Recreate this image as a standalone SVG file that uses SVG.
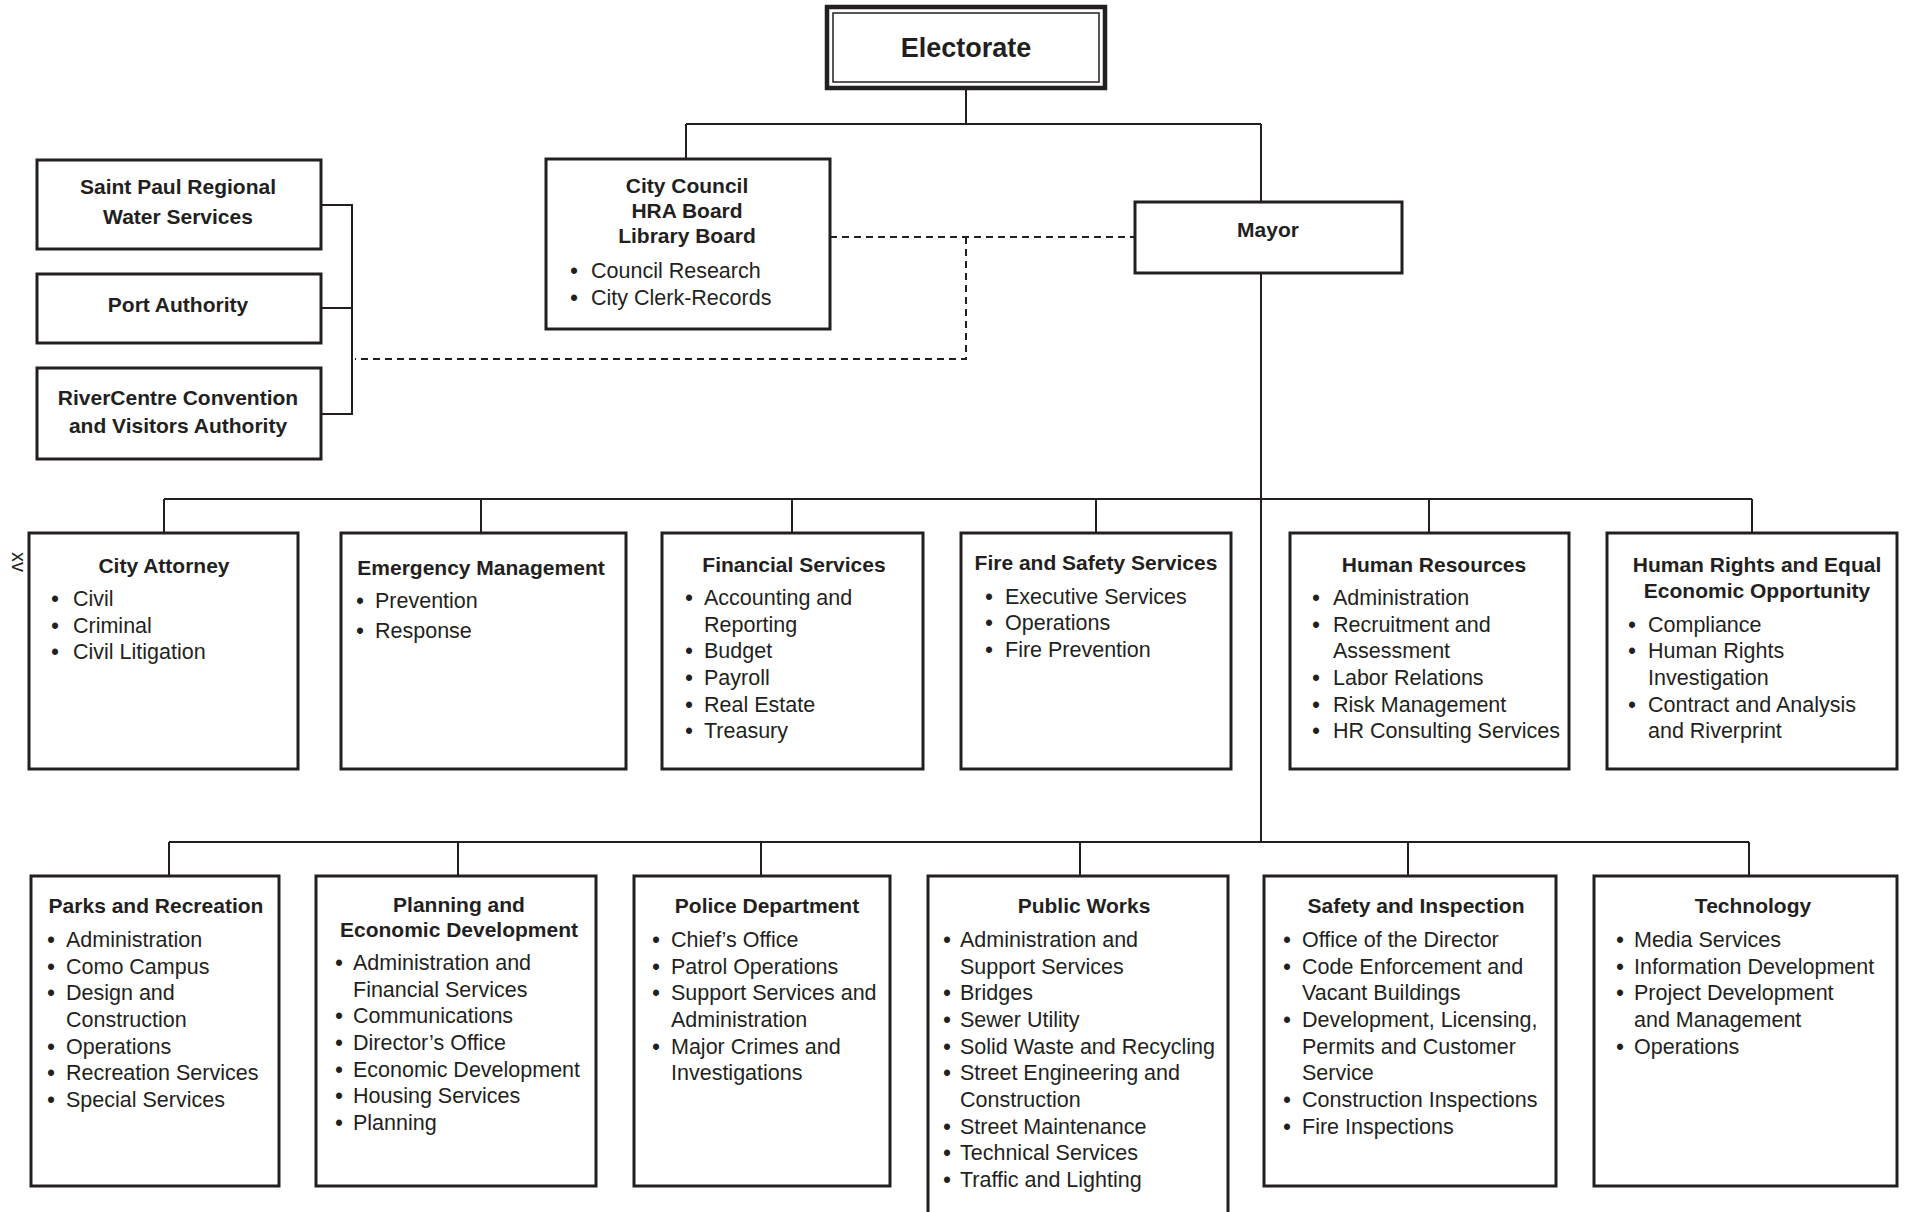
<svg xmlns="http://www.w3.org/2000/svg" width="1906" height="1212" viewBox="0 0 1906 1212">
<style>
.box{fill:#fff;stroke:#231f20;stroke-width:3}
.ln{fill:none;stroke:#231f20;stroke-width:2}
.dash{stroke-dasharray:7 5}
text{font-family:"Liberation Sans",Arial,sans-serif;fill:#231f20}
.h{font-size:21px;font-weight:bold;text-anchor:middle}
.i{font-size:21.5px}
.b{font-size:21.5px;font-weight:bold;text-anchor:middle}
</style>
<rect width="1906" height="1212" fill="#fff"/>
<g id="connectors">
<path class="ln" d="M966,89V124M686,124H1261M686,124V159M1261,124V202"/>
<path class="ln dash" d="M830,237H1135M966,237V359H355"/>
<path class="ln" d="M321,205H352V414H321M321,308H352"/>
<path class="ln" d="M1261,273V842M164,499H1752M164,499V533M481,499V533M792,499V533M1096,499V533M1429,499V533M1752,499V533"/>
<path class="ln" d="M169,842H1749M169,842V876M458,842V876M761,842V876M1080,842V876M1408,842V876M1749,842V876"/>
</g>
<g id="electorate">
<rect x="827" y="7" width="278" height="81" fill="#fff" stroke="#231f20" stroke-width="4.5"/>
<rect x="833" y="13" width="266" height="69" fill="none" stroke="#231f20" stroke-width="1.5"/>
<text x="966" y="57" text-anchor="middle" font-size="27" font-weight="bold">Electorate</text>
</g>
<g id="city-council">
<rect class="box" x="546" y="159" width="284" height="170"/>
<text class="h" x="687" y="193">City Council</text>
<text class="h" x="687" y="218">HRA Board</text>
<text class="h" x="687" y="243">Library Board</text>
<text class="b" x="574" y="278">•</text><text class="i" x="591" y="278">Council Research</text>
<text class="b" x="574" y="305">•</text><text class="i" x="591" y="305">City Clerk-Records</text>
</g>
<g id="mayor">
<rect class="box" x="1135" y="202" width="267" height="71"/>
<text class="h" x="1268" y="237">Mayor</text>
</g>
<g id="water">
<rect class="box" x="37" y="160" width="284" height="89"/>
<text class="h" x="178" y="194">Saint Paul Regional</text>
<text class="h" x="178" y="224">Water Services</text>
</g>
<g id="port">
<rect class="box" x="37" y="274" width="284" height="69"/>
<text class="h" x="178" y="312">Port Authority</text>
</g>
<g id="rivercentre">
<rect class="box" x="37" y="368" width="284" height="91"/>
<text class="h" x="178" y="405">RiverCentre Convention</text>
<text class="h" x="178" y="433">and Visitors Authority</text>
</g>
<g id="city-attorney">
<rect class="box" x="29" y="533" width="269" height="236"/>
<text class="h" x="164" y="573">City Attorney</text>
<text class="b" x="55" y="606">•</text><text class="i" x="73" y="606">Civil</text>
<text class="b" x="55" y="633">•</text><text class="i" x="73" y="633">Criminal</text>
<text class="b" x="55" y="659">•</text><text class="i" x="73" y="659">Civil Litigation</text>
</g>
<g id="emergency">
<rect class="box" x="341" y="533" width="285" height="236"/>
<text class="h" x="481" y="575">Emergency Management</text>
<text class="b" x="360" y="608">•</text><text class="i" x="375" y="608">Prevention</text>
<text class="b" x="360" y="638">•</text><text class="i" x="375" y="638">Response</text>
</g>
<g id="financial">
<rect class="box" x="662" y="533" width="261" height="236"/>
<text class="h" x="794" y="572">Financial Services</text>
<text class="b" x="689" y="605">•</text><text class="i" x="704" y="605">Accounting and</text>
<text class="i" x="704" y="632">Reporting</text>
<text class="b" x="689" y="658">•</text><text class="i" x="704" y="658">Budget</text>
<text class="b" x="689" y="685">•</text><text class="i" x="704" y="685">Payroll</text>
<text class="b" x="689" y="712">•</text><text class="i" x="704" y="712">Real Estate</text>
<text class="b" x="689" y="738">•</text><text class="i" x="704" y="738">Treasury</text>
</g>
<g id="fire">
<rect class="box" x="961" y="533" width="270" height="236"/>
<text class="h" x="1096" y="570">Fire and Safety Services</text>
<text class="b" x="989" y="604">•</text><text class="i" x="1005" y="604">Executive Services</text>
<text class="b" x="989" y="630">•</text><text class="i" x="1005" y="630">Operations</text>
<text class="b" x="989" y="657">•</text><text class="i" x="1005" y="657">Fire Prevention</text>
</g>
<g id="human-resources">
<rect class="box" x="1290" y="533" width="279" height="236"/>
<text class="h" x="1434" y="572">Human Resources</text>
<text class="b" x="1316" y="605">•</text><text class="i" x="1333" y="605">Administration</text>
<text class="b" x="1316" y="632">•</text><text class="i" x="1333" y="632">Recruitment and</text>
<text class="i" x="1333" y="658">Assessment</text>
<text class="b" x="1316" y="685">•</text><text class="i" x="1333" y="685">Labor Relations</text>
<text class="b" x="1316" y="712">•</text><text class="i" x="1333" y="712">Risk Management</text>
<text class="b" x="1316" y="738">•</text><text class="i" x="1333" y="738">HR Consulting Services</text>
</g>
<g id="human-rights">
<rect class="box" x="1607" y="533" width="290" height="236"/>
<text class="h" x="1757" y="572">Human Rights and Equal</text>
<text class="h" x="1757" y="598">Economic Opportunity</text>
<text class="b" x="1632" y="632">•</text><text class="i" x="1648" y="632">Compliance</text>
<text class="b" x="1632" y="658">•</text><text class="i" x="1648" y="658">Human Rights</text>
<text class="i" x="1648" y="685">Investigation</text>
<text class="b" x="1632" y="712">•</text><text class="i" x="1648" y="712">Contract and Analysis</text>
<text class="i" x="1648" y="738">and Riverprint</text>
</g>
<g id="parks">
<rect class="box" x="31" y="876" width="248" height="310"/>
<text class="h" x="156" y="913">Parks and Recreation</text>
<text class="b" x="51" y="947">•</text><text class="i" x="66" y="947">Administration</text>
<text class="b" x="51" y="974">•</text><text class="i" x="66" y="974">Como Campus</text>
<text class="b" x="51" y="1000">•</text><text class="i" x="66" y="1000">Design and</text>
<text class="i" x="66" y="1027">Construction</text>
<text class="b" x="51" y="1054">•</text><text class="i" x="66" y="1054">Operations</text>
<text class="b" x="51" y="1080">•</text><text class="i" x="66" y="1080">Recreation Services</text>
<text class="b" x="51" y="1107">•</text><text class="i" x="66" y="1107">Special Services</text>
</g>
<g id="planning">
<rect class="box" x="316" y="876" width="280" height="310"/>
<text class="h" x="459" y="912">Planning and</text>
<text class="h" x="459" y="937">Economic Development</text>
<text class="b" x="339" y="970">•</text><text class="i" x="353" y="970">Administration and</text>
<text class="i" x="353" y="997">Financial Services</text>
<text class="b" x="339" y="1023">•</text><text class="i" x="353" y="1023">Communications</text>
<text class="b" x="339" y="1050">•</text><text class="i" x="353" y="1050">Director’s Office</text>
<text class="b" x="339" y="1077">•</text><text class="i" x="353" y="1077">Economic Development</text>
<text class="b" x="339" y="1103">•</text><text class="i" x="353" y="1103">Housing Services</text>
<text class="b" x="339" y="1130">•</text><text class="i" x="353" y="1130">Planning</text>
</g>
<g id="police">
<rect class="box" x="634" y="876" width="256" height="310"/>
<text class="h" x="767" y="913">Police Department</text>
<text class="b" x="656" y="947">•</text><text class="i" x="671" y="947">Chief’s Office</text>
<text class="b" x="656" y="974">•</text><text class="i" x="671" y="974">Patrol Operations</text>
<text class="b" x="656" y="1000">•</text><text class="i" x="671" y="1000">Support Services and</text>
<text class="i" x="671" y="1027">Administration</text>
<text class="b" x="656" y="1054">•</text><text class="i" x="671" y="1054">Major Crimes and</text>
<text class="i" x="671" y="1080">Investigations</text>
</g>
<g id="public-works">
<path class="box" d="M928,1216V876H1228V1216"/>
<text class="h" x="1084" y="913">Public Works</text>
<text class="b" x="947" y="947">•</text><text class="i" x="960" y="947">Administration and</text>
<text class="i" x="960" y="974">Support Services</text>
<text class="b" x="947" y="1000">•</text><text class="i" x="960" y="1000">Bridges</text>
<text class="b" x="947" y="1027">•</text><text class="i" x="960" y="1027">Sewer Utility</text>
<text class="b" x="947" y="1054">•</text><text class="i" x="960" y="1054">Solid Waste and Recycling</text>
<text class="b" x="947" y="1080">•</text><text class="i" x="960" y="1080">Street Engineering and</text>
<text class="i" x="960" y="1107">Construction</text>
<text class="b" x="947" y="1134">•</text><text class="i" x="960" y="1134">Street Maintenance</text>
<text class="b" x="947" y="1160">•</text><text class="i" x="960" y="1160">Technical Services</text>
<text class="b" x="947" y="1187">•</text><text class="i" x="960" y="1187">Traffic and Lighting</text>
</g>
<g id="safety-inspection">
<rect class="box" x="1264" y="876" width="292" height="310"/>
<text class="h" x="1416" y="913">Safety and Inspection</text>
<text class="b" x="1287" y="947">•</text><text class="i" x="1302" y="947">Office of the Director</text>
<text class="b" x="1287" y="974">•</text><text class="i" x="1302" y="974">Code Enforcement and</text>
<text class="i" x="1302" y="1000">Vacant Buildings</text>
<text class="b" x="1287" y="1027">•</text><text class="i" x="1302" y="1027">Development, Licensing,</text>
<text class="i" x="1302" y="1054">Permits and Customer</text>
<text class="i" x="1302" y="1080">Service</text>
<text class="b" x="1287" y="1107">•</text><text class="i" x="1302" y="1107">Construction Inspections</text>
<text class="b" x="1287" y="1134">•</text><text class="i" x="1302" y="1134">Fire Inspections</text>
</g>
<g id="technology">
<rect class="box" x="1594" y="876" width="303" height="310"/>
<text class="h" x="1753" y="913">Technology</text>
<text class="b" x="1620" y="947">•</text><text class="i" x="1634" y="947">Media Services</text>
<text class="b" x="1620" y="974">•</text><text class="i" x="1634" y="974">Information Development</text>
<text class="b" x="1620" y="1000">•</text><text class="i" x="1634" y="1000">Project Development</text>
<text class="i" x="1634" y="1027">and Management</text>
<text class="b" x="1620" y="1054">•</text><text class="i" x="1634" y="1054">Operations</text>
</g>
<text x="12" y="562" font-size="20" text-anchor="middle" transform="rotate(90 12 562)">xv</text>
</svg>
